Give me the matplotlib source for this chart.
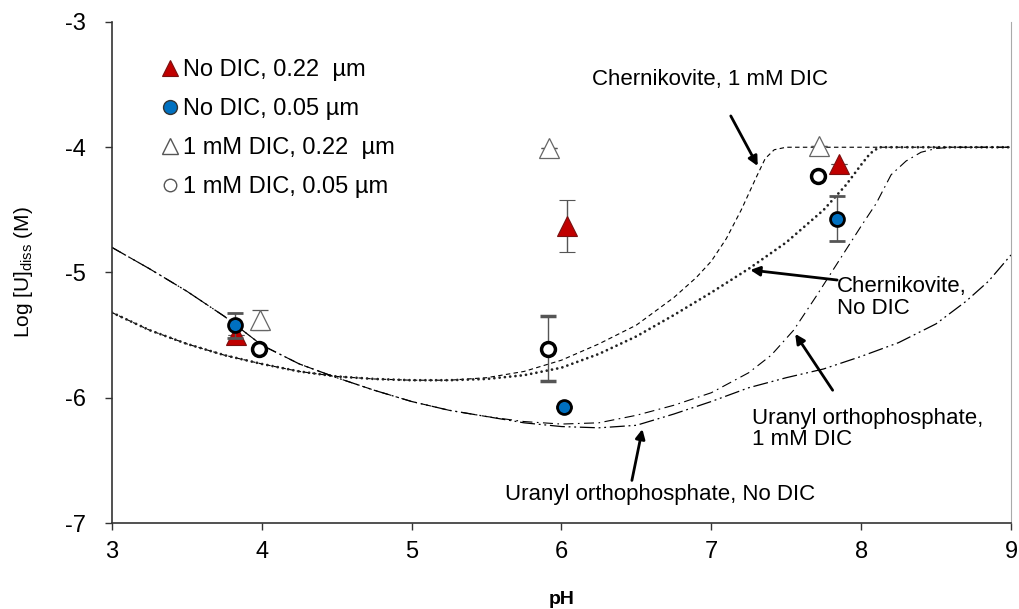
import numpy as np
import matplotlib
matplotlib.use("Agg")
import matplotlib.pyplot as plt
from matplotlib.lines import Line2D

plt.rcParams['font.family'] = ['Liberation Sans', 'DejaVu Sans']
plt.rcParams['axes.unicode_minus'] = False

#%% data points
# No DIC, 0.22 um (red triangles)
ph_nodic_22 = [3.83, 6.04, 7.85]
u_nodic_22 = [-5.50, -4.63, -4.13]
err_nodic_22 = [0.0, 0.21, 0.0]

# No DIC, 0.05 um (blue circles)
ph_nodic_05 = [3.82, 6.02, 7.84]
u_nodic_05 = [-5.42, -6.07, -4.57]
err_nodic_05 = [0.10, 0.0, 0.18]

# 1 mM DIC, 0.22 um (open triangles)
ph_dic_22 = [3.99, 5.92, 7.72]
u_dic_22 = [-5.38, -4.01, -3.99]
err_dic_22 = [0.08, 0.0, 0.0]

# 1 mM DIC, 0.05 um (open circles)
ph_dic_05 = [3.98, 5.91, 7.71]
u_dic_05 = [-5.61, -5.61, -4.23]
err_dic_05 = [0.0, 0.26, 0.0]

#%% model curves
ph_cher_dic = [3.0, 3.25, 3.5, 3.75, 4.0, 4.25, 4.5, 4.75, 5.0, 5.25, 5.5, 5.75, 6.0, 6.25,
               6.5, 6.75, 6.9, 7.0, 7.1, 7.2, 7.3, 7.36, 7.42, 7.5, 9.0]
u_cher_dic = [-5.32, -5.46, -5.57, -5.66, -5.73, -5.79, -5.83, -5.85, -5.86, -5.86, -5.84, -5.79,
              -5.70, -5.57, -5.42, -5.20, -5.04, -4.91, -4.73, -4.50, -4.24, -4.09, -4.02, -4.0, -4.0]

ph_cher_nodic = [3.0, 3.25, 3.5, 3.75, 4.0, 4.25, 4.5, 4.75, 5.0, 5.25, 5.5, 5.75, 6.0, 6.25,
                 6.5, 6.75, 7.0, 7.25, 7.5, 7.75, 7.9, 8.0, 8.06, 8.12, 9.0]
u_cher_nodic = [-5.32, -5.46, -5.57, -5.66, -5.73, -5.79, -5.83, -5.85, -5.86, -5.86, -5.85, -5.82,
                -5.76, -5.65, -5.51, -5.34, -5.16, -4.97, -4.76, -4.50, -4.30, -4.14, -4.05, -4.0, -4.0]

ph_ura_dic = [3.0, 3.25, 3.5, 3.75, 4.0, 4.25, 4.5, 4.75, 5.0, 5.25, 5.5, 5.75, 6.0, 6.25, 6.5,
              6.75, 7.0, 7.25, 7.4, 7.55, 7.7, 7.85, 8.0, 8.1, 8.2, 8.3, 8.4, 8.5, 8.6, 9.0]
u_ura_dic = [-4.80, -4.97, -5.15, -5.35, -5.58, -5.73, -5.84, -5.94, -6.03, -6.10, -6.15, -6.19,
             -6.21, -6.20, -6.14, -6.06, -5.96, -5.80, -5.66, -5.46, -5.19, -4.91, -4.63, -4.45,
             -4.22, -4.11, -4.04, -4.01, -4.0, -4.0]

ph_ura_nodic = [3.0, 3.25, 3.5, 3.75, 4.0, 4.25, 4.5, 4.75, 5.0, 5.25, 5.5, 5.75, 6.0, 6.25, 6.5,
                6.75, 7.0, 7.25, 7.5, 7.75, 8.0, 8.25, 8.5, 8.7, 8.85, 9.0]
u_ura_nodic = [-4.80, -4.97, -5.15, -5.35, -5.58, -5.73, -5.84, -5.94, -6.03, -6.10, -6.15, -6.20,
               -6.23, -6.24, -6.22, -6.13, -6.03, -5.92, -5.84, -5.77, -5.67, -5.56, -5.41, -5.23,
               -5.07, -4.86]

#%% figure
fig = plt.figure(figsize=(10.19, 6.09), dpi=100)
ax = fig.add_axes([0.1099, 0.1412, 0.8822, 0.8227])

ax.plot(ph_cher_dic, u_cher_dic, color='k', lw=0.8, dashes=(4, 3))
ax.plot(ph_cher_nodic, u_cher_nodic, color='#222222', lw=2.0, dashes=(0.01, 1.9), dash_capstyle='round')
ax.plot(ph_ura_dic, u_ura_dic, color='k', lw=0.8, dashes=(9, 4, 1.5, 4))
ax.plot(ph_ura_nodic, u_ura_nodic, color='k', lw=0.9, dashes=(12, 3, 1.5, 3, 1.5, 3))

ekw = dict(ecolor='#555555', elinewidth=1.0, capsize=6, capthick=1.0, ls='none')
ax.errorbar(ph_nodic_22, u_nodic_22, yerr=err_nodic_22, fmt='^', ms=14,
            mfc='#C00000', mec='#7a1010', mew=0.8, zorder=5, **ekw)
ax.errorbar(ph_nodic_05, u_nodic_05, yerr=err_nodic_05, fmt='o', ms=10,
            mfc='#0070C0', mec='k', mew=2.0, zorder=6, **ekw)
ax.errorbar(ph_dic_22, u_dic_22, yerr=err_dic_22, fmt='^', ms=14,
            mfc='white', mec='#666666', mew=0.9, zorder=4, **ekw)
ax.errorbar(ph_dic_05, u_dic_05, yerr=err_dic_05, fmt='o', ms=10,
            mfc='white', mec='k', mew=2.5, zorder=5, **ekw)

# legend
handles = [
    Line2D([], [], ls='none', marker='^', ms=11, mfc='#C00000', mec='#7a1010', mew=0.8),
    Line2D([], [], ls='none', marker='o', ms=10, mfc='#0070C0', mec='#333333', mew=1.0),
    Line2D([], [], ls='none', marker='^', ms=11, mfc='white', mec='#555555', mew=1.0),
    Line2D([], [], ls='none', marker='o', ms=9, mfc='white', mec='#555555', mew=1.0),
]
labels = ['No DIC, 0.22  µm', 'No DIC, 0.05 µm', '1 mM DIC, 0.22  µm', '1 mM DIC, 0.05 µm']
ax.legend(handles, labels, loc='upper left', bbox_to_anchor=(0.043, 0.95), frameon=False,
          fontsize=17, handlelength=0.6, handletextpad=0.25, labelspacing=0.72, borderpad=0)

# annotations
akw = dict(arrowstyle='-|>', lw=2.0, color='k', mutation_scale=14, shrinkA=0, shrinkB=0)
afs = 16
ax.text(6.99, -3.46, 'Chernikovite, 1 mM DIC', fontsize=afs, ha='center', va='center')
ax.annotate('', xy=(7.31, -4.15), xytext=(7.13, -3.75), arrowprops=akw)
ax.annotate('', xy=(7.26, -4.98), xytext=(7.84, -5.06), arrowprops=akw)
ax.text(7.84, -5.20, 'Chernikovite,\nNo DIC', fontsize=afs, ha='left', va='center', linespacing=1.05)
ax.annotate('', xy=(7.56, -5.49), xytext=(7.81, -5.94), arrowprops=akw)
ax.text(7.27, -6.25, 'Uranyl orthophosphate,\n1 mM DIC', fontsize=afs, ha='left', va='center', linespacing=1.05)
ax.annotate('', xy=(6.54, -6.25), xytext=(6.47, -6.66), arrowprops=akw)
ax.text(6.66, -6.77, 'Uranyl orthophosphate, No DIC', fontsize=afs, ha='center', va='center')

ax.set_xlim(3, 9)
ax.set_ylim(-7, -3)
ax.set_xticks(np.arange(3, 10, 1))
ax.set_yticks(np.arange(-7, -2, 1))
ax.tick_params(direction='out', length=5, width=1.0, labelsize=17, color='#333333')
ax.tick_params(axis='x', pad=8)
ax.tick_params(axis='y', pad=14)
ax.spines['top'].set_visible(False)
ax.spines['right'].set_color('#aaaaaa')
ax.spines['left'].set_color('#333333')
ax.spines['bottom'].set_color('#333333')
ax.spines['left'].set_linewidth(1.2)
ax.spines['bottom'].set_linewidth(1.2)

ax.set_xlabel('pH', fontsize=14, fontweight='bold', labelpad=20)
ax.set_ylabel('Log [U]$_{\\mathregular{diss}}$ (M)', fontsize=15, labelpad=21)

fig.savefig('out.png', dpi=100, facecolor='white')
